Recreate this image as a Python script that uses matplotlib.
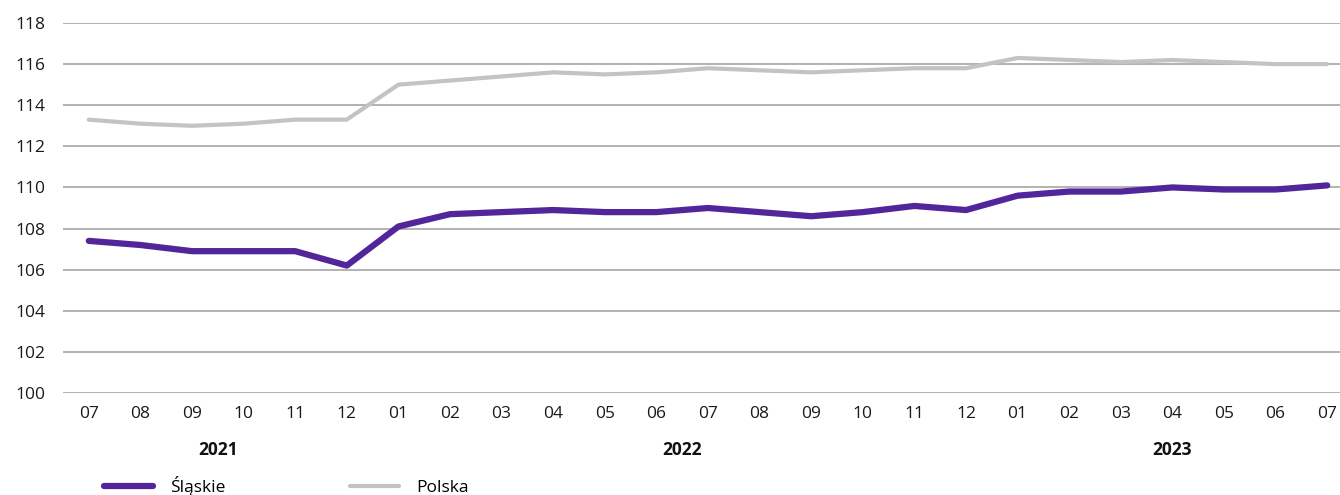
import matplotlib
matplotlib.use("Agg")
import matplotlib.pyplot as plt
from matplotlib.lines import Line2D

plt.rcParams['font.family'] = ['Open Sans', 'DejaVu Sans']

months = ["07", "08", "09", "10", "11", "12",
          "01", "02", "03", "04", "05", "06", "07", "08", "09", "10", "11", "12",
          "01", "02", "03", "04", "05", "06", "07"]
years = ["2021", "2022", "2023"]
year_month_counts = [6, 12, 7]

slaskie = [107.4, 107.2, 106.9, 106.9, 106.9, 106.2,
           108.1, 108.7, 108.8, 108.9, 108.8, 108.8, 109.0, 108.8, 108.6, 108.8, 109.1, 108.9,
           109.6, 109.8, 109.8, 110.0, 109.9, 109.9, 110.1]
polska = [113.3, 113.1, 113.0, 113.1, 113.3, 113.3,
          115.0, 115.2, 115.4, 115.6, 115.5, 115.6, 115.8, 115.7, 115.6, 115.7, 115.8, 115.8,
          116.3, 116.2, 116.1, 116.2, 116.1, 116.0, 116.0]
yticks = [100, 102, 104, 106, 108, 110, 112, 114, 116, 118]

FS = 12.5
fig = plt.figure(figsize=(13.4, 4.95), dpi=100)
ax = fig.add_axes([63/1340, 1 - 393/495, (1353 - 63)/1340, (393 - 23)/495])

x = list(range(len(months)))
purple = "#52259a"
grey = "#c3c3c3"
ax.plot(x, polska, color=grey, lw=3, solid_capstyle='round', solid_joinstyle='round', zorder=3)
ax.plot(x, slaskie, color=purple, lw=4.5, solid_capstyle='round', solid_joinstyle='round', zorder=4)

ax.set_xlim(-0.5, len(months) - 0.5)
ax.set_ylim(100, 118)
ax.set_yticks(yticks)
ax.set_yticklabels([str(v) for v in yticks], fontsize=FS, color="#1a1a1a")
ax.yaxis.grid(True, color="#a6a6a6", lw=1.2)
ax.set_axisbelow(True)
ax.tick_params(axis='y', length=0, pad=13)
ax.tick_params(axis='x', length=0, pad=9)
ax.set_xticks(x)
ax.set_xticklabels(months, fontsize=FS, color="#1a1a1a")
for s in ax.spines.values():
    s.set_visible(False)

# year labels centered under their months
start = 0
for yr, n in zip(years, year_month_counts):
    center = start + (n - 1) / 2
    ax.text(center, -0.155, yr, transform=ax.get_xaxis_transform(), ha='center', va='center',
            fontsize=FS, fontweight='bold', color="#111111")
    start += n

handles = [Line2D([0], [0], color=purple, lw=4.5, solid_capstyle='round'),
           Line2D([0], [0], color=grey, lw=3, solid_capstyle='round')]
fig.legend(handles, ["Śląskie", "Polska"], loc='center left', bbox_to_anchor=(97/1340, 1 - 486/495),
           ncol=2, frameon=False, fontsize=FS, handlelength=2.8, columnspacing=7.2,
           handletextpad=1.0, borderaxespad=0)

fig.savefig("out.png", dpi=100)
